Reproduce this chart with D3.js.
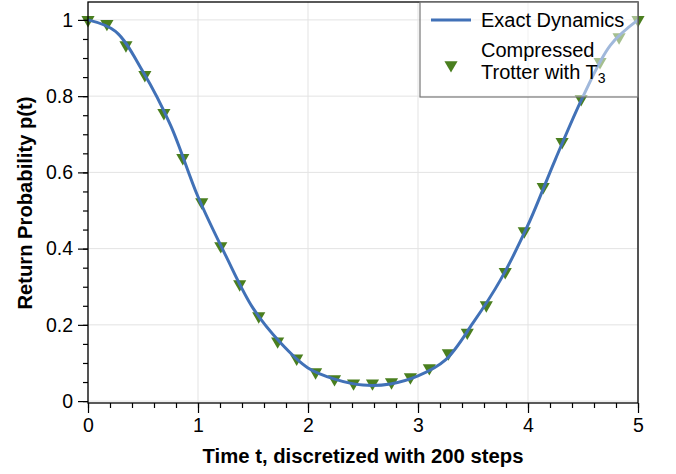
<!DOCTYPE html>
<html>
<head>
<meta charset="utf-8">
<script src="https://cdn.jsdelivr.net/npm/d3@7"></script>
<style>
  body { margin: 0; background: #fff; }
  svg { font-family: "Liberation Sans", Arial, sans-serif; }
</style>
</head>
<body>
<script>
// exact dynamics
var exactT = [0, 0.25, 0.5, 0.75, 1, 1.25, 1.5, 1.75, 2, 2.25, 2.5, 2.75, 3, 3.25, 3.5, 3.75, 4, 4.25, 4.5, 4.75, 5];
var exactP = [1.0, 0.97, 0.864, 0.724, 0.536, 0.383, 0.244, 0.153, 0.087, 0.057, 0.042, 0.045, 0.066, 0.108, 0.205, 0.318, 0.462, 0.635, 0.799, 0.934, 1.0];

// compressed Trotter markers (30 points, 0..5)
var trotterT = [0, 0.172, 0.345, 0.517, 0.690, 0.862, 1.034, 1.207, 1.379, 1.552, 1.724, 1.897, 2.069, 2.241, 2.414,
                2.586, 2.759, 2.931, 3.103, 3.276, 3.448, 3.621, 3.793, 3.966, 4.138, 4.310, 4.483, 4.655, 4.828, 5];
var trotterP = [1.0, 0.99, 0.934, 0.856, 0.756, 0.638, 0.522, 0.407, 0.307, 0.223, 0.157, 0.112, 0.076, 0.058, 0.047,
                0.047, 0.050, 0.063, 0.087, 0.126, 0.180, 0.252, 0.339, 0.446, 0.562, 0.680, 0.793, 0.890, 0.955, 1.0];

var xTicks = [0, 1, 2, 3, 4, 5];
var yTicks = [0, 0.2, 0.4, 0.6, 0.8, 1];
var yTickLabels = ["0", "0.2", "0.4", "0.6", "0.8", "1"];

var W = 676, H = 474;
var blue = "#4171b7", green = "#4a7f1f";

var svg = d3.select("body").append("svg").attr("width", W).attr("height", H);

var x = d3.scaleLinear().domain([0, 5]).range([88, 638]);
var y = d3.scaleLinear().domain([-0.005, 1.047]).range([403, 2]);

// gridlines
svg.append("g").selectAll("line").data(xTicks).enter().append("line")
  .attr("x1", function(d){ return x(d); }).attr("x2", function(d){ return x(d); })
  .attr("y1", y.range()[0]).attr("y2", y.range()[1])
  .attr("stroke", "#e3e3e3").attr("stroke-width", 1);
svg.append("g").selectAll("line").data(yTicks).enter().append("line")
  .attr("y1", function(d){ return y(d); }).attr("y2", function(d){ return y(d); })
  .attr("x1", x.range()[0]).attr("x2", x.range()[1])
  .attr("stroke", "#e3e3e3").attr("stroke-width", 1);

// triangles pointing down
var tri = d3.symbol().type(d3.symbolTriangle).size(75);
svg.append("g").selectAll("path").data(trotterP).enter().append("path")
  .attr("d", tri)
  .attr("transform", function(d, i){ return "translate(" + x(trotterT[i]) + "," + y(d) + ") rotate(180)"; })
  .attr("fill", green);

// exact curve (drawn over the markers)
var line = d3.line()
  .x(function(d, i){ return x(exactT[i]); })
  .y(function(d){ return y(d); })
  .curve(d3.curveCatmullRom);
svg.append("path").datum(exactP)
  .attr("d", line).attr("fill", "none")
  .attr("stroke", blue).attr("stroke-width", 3);

// frame
svg.append("rect")
  .attr("x", 88).attr("y", 2).attr("width", 550).attr("height", 401)
  .attr("fill", "none").attr("stroke", "#000").attr("stroke-width", 1.3);

// axes
var fontSize = 19.5;
svg.append("g").attr("transform", "translate(0,403)")
  .call(d3.axisBottom(x).tickValues(xTicks).tickSize(10).tickPadding(5).tickFormat(d3.format("d")));
svg.append("g").attr("transform", "translate(0,403)")
  .call(d3.axisBottom(x).tickValues(d3.range(0, 5.001, 0.2)).tickSize(5).tickFormat(""));
svg.append("g").attr("transform", "translate(88,0)")
  .call(d3.axisLeft(y).tickValues(yTicks).tickSize(10).tickPadding(5)
    .tickFormat(function(d, i){ return yTickLabels[i]; }));
svg.append("g").attr("transform", "translate(88,0)")
  .call(d3.axisLeft(y).tickValues(d3.range(0, 1.001, 0.05)).tickSize(5).tickFormat(""));
svg.selectAll(".domain").remove();
svg.selectAll(".tick line").attr("stroke", "#000").attr("stroke-width", 1.2);
svg.selectAll(".tick text").attr("font-size", fontSize).attr("font-family", "Liberation Sans, Arial, sans-serif").attr("fill", "#000");

// axis titles
svg.append("text").attr("x", x(2.5)).attr("y", 463)
  .attr("text-anchor", "middle").attr("font-size", 20.3).attr("font-weight", "bold")
  .text("Time t, discretized with 200 steps");
svg.append("text").attr("transform", "translate(31.5,203) rotate(-90)")
  .attr("text-anchor", "middle").attr("font-size", 20.2).attr("font-weight", "bold")
  .text("Return Probability p(t)");

// legend
var lg = svg.append("g");
lg.append("rect").attr("x", 420).attr("y", 2).attr("width", 218).attr("height", 95)
  .attr("fill", "#fff").attr("fill-opacity", 0.5).attr("stroke", "#777").attr("stroke-width", 1.2);
lg.append("line").attr("x1", 431).attr("x2", 471).attr("y1", 20).attr("y2", 20)
  .attr("stroke", blue).attr("stroke-width", 3);
lg.append("text").attr("x", 481).attr("y", 27).attr("font-size", 20).text("Exact Dynamics");
lg.append("path").attr("d", tri).attr("transform", "translate(451,65) rotate(180)").attr("fill", green);
lg.append("text").attr("x", 481).attr("y", 57).attr("font-size", 20).text("Compressed");
var t2 = lg.append("text").attr("x", 481).attr("y", 79).attr("font-size", 20);
t2.append("tspan").text("Trotter with T");
t2.append("tspan").attr("font-size", 14).attr("dy", 4).text("3");
</script>
</body>
</html>
